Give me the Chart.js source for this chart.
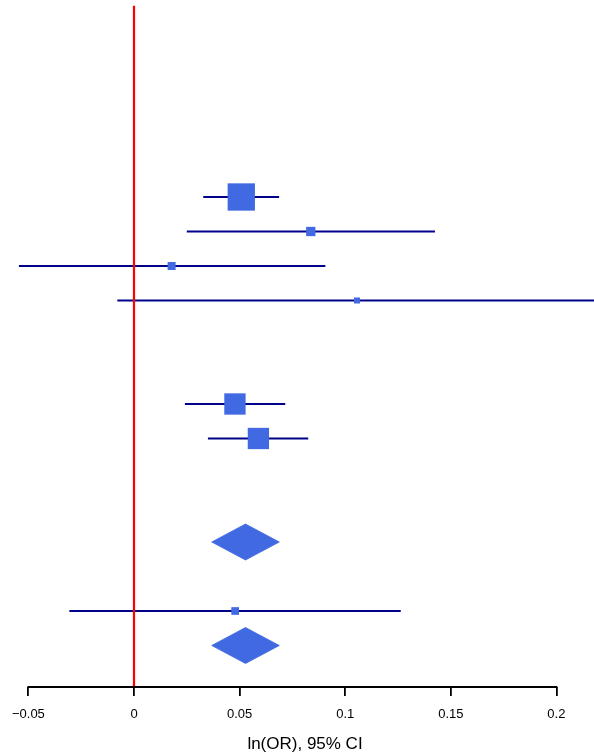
<!DOCTYPE html>
<html>
<head>
<meta charset="utf-8">
<script src="https://cdn.jsdelivr.net/npm/chart.js@4/dist/chart.umd.min.js"></script>
<style>
  html, body { margin: 0; padding: 0; background: #ffffff; overflow: hidden; }
  #wrap { width: 610px; height: 756px; }
</style>
</head>
<body>
<div id="wrap"><canvas id="c" width="610" height="756"></canvas></div>
<script>
// ---- data ----
const studyRows   = [5, 6, 7, 8, 11, 12, 17];
const estimates   = [0.0508, 0.0837, 0.0178, 0.1056, 0.0478, 0.0589, 0.0479];
const lowerCI     = [0.0328, 0.0250, -0.0545, -0.0079, 0.0241, 0.0350, -0.0306];
const upperCI     = [0.0687, 0.1425, 0.0906, 0.2300, 0.0716, 0.0825, 0.1263];
const weights     = [46.6, 5.4, 4.0, 2.25, 28.4, 28.4, 3.7];

const pooledRows  = [15, 18];
const pooledEst   = [0.0528, 0.0528];
const pooledLower = [0.0368, 0.0368];
const pooledUpper = [0.0688, 0.0688];

const tickValues  = [-0.05, 0, 0.05, 0.1, 0.15, 0.2];
const tickLabels  = ['\u22120.05', '0', '0.05', '0.1', '0.15', '0.2'];
const axisTitle   = 'ln(OR), 95% CI';
const nullValue   = 0;

// ---- styling ----
const CI_COLOR = '#00008B';
const BOX_COLOR = '#4169E1';
const NULL_COLOR = '#FF0000';
const DIAMOND_HALF = 0.522;   // half height of pooled diamond, in row units
const Y_MIN = -0.71, Y_MAX = 19.203;
const X_MIN = -134 / 2112, X_MAX = 476 / 2112;

const datasets = [];

// confidence interval lines
studyRows.forEach((r, i) => {
  datasets.push({
    data: [{x: lowerCI[i], y: r}, {x: upperCI[i], y: r}],
    showLine: true, borderColor: CI_COLOR, borderWidth: 2,
    pointRadius: 0, order: 3
  });
});

// null line
datasets.push({
  data: [{x: nullValue, y: -0.545}, {x: nullValue, y: Y_MAX}],
  showLine: true, borderColor: NULL_COLOR, borderWidth: 2.2,
  pointRadius: 0, order: 2
});

// study boxes
datasets.push({
  data: studyRows.map((r, i) => ({x: estimates[i], y: r})),
  pointStyle: 'rect',
  pointRadius: weights.map(w => 4 * Math.sqrt(w) / Math.SQRT2),
  backgroundColor: BOX_COLOR, borderWidth: 0, order: 1
});

// pooled diamonds
pooledRows.forEach((r, i) => {
  datasets.push({
    data: [
      {x: pooledLower[i], y: r},
      {x: pooledEst[i], y: r - DIAMOND_HALF},
      {x: pooledUpper[i], y: r},
      {x: pooledEst[i], y: r + DIAMOND_HALF},
      {x: pooledLower[i], y: r}
    ],
    showLine: true, fill: 'shape', tension: 0,
    backgroundColor: BOX_COLOR, borderColor: BOX_COLOR, borderWidth: 0.8,
    pointRadius: 0, order: 1
  });
});

const axisLinePlugin = {
  id: 'axisLine',
  afterDraw(chart) {
    const xs = chart.scales.x;
    const ctx = chart.ctx;
    const y = chart.chartArea.bottom;
    ctx.save();
    ctx.strokeStyle = '#000000';
    ctx.lineWidth = 1.8;
    ctx.beginPath();
    ctx.moveTo(xs.getPixelForValue(tickValues[0]) - 0.9, y);
    ctx.lineTo(xs.getPixelForValue(tickValues[tickValues.length - 1]) + 0.9, y);
    ctx.stroke();
    ctx.restore();
  }
};

new Chart(document.getElementById('c'), {
  type: 'scatter',
  data: { datasets },
  plugins: [axisLinePlugin],
  options: {
    responsive: false,
    animation: false,
    events: [],
    layout: { padding: 0, autoPadding: false },
    plugins: { legend: { display: false }, tooltip: { enabled: false } },
    scales: {
      x: {
        type: 'linear',
        min: X_MIN, max: X_MAX,
        afterBuildTicks: s => { s.ticks = tickValues.map(v => ({value: v})); },
        afterFit: s => { s.paddingLeft = 0; s.paddingRight = 0; },
        grid: { display: true, drawOnChartArea: false, drawTicks: true,
                tickLength: 9, color: '#000000', lineWidth: 1.8 },
        border: { display: false },
        ticks: {
          padding: 11, color: '#000000',
          font: { family: 'Liberation Sans, Arial, sans-serif', size: 13 },
          maxRotation: 0, autoSkip: false,
          callback: v => { const k = tickValues.indexOf(v); return k >= 0 ? tickLabels[k] : ''; }
        },
        title: {
          display: true, text: axisTitle, color: '#000000',
          font: { family: 'Liberation Sans, Arial, sans-serif', size: 17 },
          padding: { top: 0.2, bottom: 1.8 }
        }
      },
      y: {
        type: 'linear', reverse: true, min: Y_MIN, max: Y_MAX,
        display: false
      }
    }
  }
});
</script>
</body>
</html>
